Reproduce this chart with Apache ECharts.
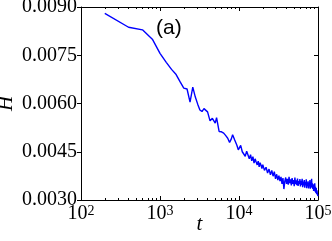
<!DOCTYPE html>
<html>
<head>
<meta charset="utf-8">
<script src="https://cdn.jsdelivr.net/npm/echarts@6/dist/echarts.min.js"></script>
<style>
  html, body { margin: 0; padding: 0; background: #fff; }
  #chart { width: 332px; height: 241px; }
</style>
</head>
<body>
<div id="chart"></div>
<script>
'use strict';

// time steps (t) and H
var tValues = [
    200, 400, 600, 800, 1000, 1200, 1400, 1600, 1800, 2000,
    2200, 2400, 2600, 2800, 3000, 3200, 3400, 3600, 3800, 4000,
    4300, 4600, 5000, 5200, 5600, 6000, 6400, 6800, 7200, 7600,
    8000, 8300, 8800, 9400, 9800,
    10000, 10500, 11000, 11500, 12000, 12500, 13000, 13500, 14000, 14500,
    15000, 15500, 16000, 16500, 17000, 17500, 18000, 18500, 19000, 19500,
    20000, 21000, 22000, 23000, 24000, 25000, 26000, 27000, 28000, 29000,
    30000, 31000, 32000, 33000, 34000, 35000, 36000, 37000, 38000, 39000,
    40000, 41000, 42000, 43000, 44000, 45000, 46000, 47000, 48000, 49000,
    50000, 51000, 52000, 53000, 54000, 55000, 56000, 57000, 58000, 59000,
    60000, 61000, 62000, 63000, 64000, 65000, 66000, 67000, 68000, 69000,
    70000, 71000, 72000, 73000, 74000, 75000, 76000, 77000, 78000, 79000,
    80000, 81000, 82000, 83000, 84000, 85000, 86000, 87000, 88000, 89000,
    90000, 91000, 92000, 93000, 94000, 95000, 96000, 97000, 98000, 99000,
    100000
];
var hValues = [
    0.00880, 0.00837, 0.00829, 0.00800, 0.00756, 0.00728, 0.00706, 0.00690, 0.00667, 0.00648,
    0.00645, 0.00604, 0.00651, 0.00620, 0.00598, 0.00580, 0.00575, 0.00584, 0.00587, 0.00574,
    0.00546, 0.00554, 0.00539, 0.00556, 0.00513, 0.00512, 0.00508, 0.00500, 0.00492, 0.00479,
    0.00490, 0.00503, 0.00487, 0.00470, 0.00456,
    0.00462, 0.00470, 0.00450, 0.00455, 0.00436, 0.00452, 0.00440, 0.00428, 0.00441, 0.00422,
    0.00435, 0.00415, 0.00428, 0.00418, 0.00409, 0.00421, 0.00403, 0.00416, 0.00408, 0.00398,
    0.00410, 0.00392, 0.00402, 0.00384, 0.00396, 0.00378, 0.00392, 0.00374, 0.00388, 0.00366,
    0.00380, 0.00362, 0.00376, 0.00359, 0.00372, 0.00350, 0.00368, 0.00334, 0.00358, 0.00370,
    0.00350, 0.00366, 0.00348, 0.00372, 0.00352, 0.00364, 0.00345, 0.00368, 0.00350, 0.00362,
    0.00343, 0.00370, 0.00349, 0.00361, 0.00346, 0.00367, 0.00344, 0.00359, 0.00349, 0.00365,
    0.00342, 0.00360, 0.00347, 0.00366, 0.00340, 0.00357, 0.00345, 0.00362, 0.00338, 0.00356,
    0.00346, 0.00364, 0.00337, 0.00355, 0.00343, 0.00358, 0.00336, 0.00352, 0.00344, 0.00362,
    0.00335, 0.00350, 0.00341, 0.00366, 0.00338, 0.00352, 0.00334, 0.00349, 0.00328, 0.00345,
    0.00333, 0.00352, 0.00326, 0.00341, 0.00322, 0.00337, 0.00318, 0.00330, 0.00320, 0.00326,
    0.00312
];

var yTicks = [0.0030, 0.0045, 0.0060, 0.0075, 0.0090];
var xTicks = [100, 1000, 10000, 100000];

var serif = 'Liberation Serif';

var lineData = tValues.map(function(t, i) {
    return [t, hValues[i]];
});

var chart = echarts.init(document.getElementById('chart'), null, { renderer: 'canvas' });

function xLabel(v) {
    return '{b|10}{s|' + Math.round(Math.log10(v)) + '}';
}

var option = {
    animation: false,
    backgroundColor: '#fff',
    title: {
        text: '(a)',
        left: 151,
        top: 13,
        textStyle: { fontFamily: 'Liberation Sans', fontSize: 21, fontWeight: 'normal', color: '#000' }
    },
    grid: { left: 81, right: 14, top: 7, bottom: 41, containLabel: false, outerBoundsMode: 'none' },
    xAxis: [{
        type: 'log',
        logBase: 10,
        min: xTicks[0],
        max: xTicks[xTicks.length - 1],
        name: 't',
        nameLocation: 'middle',
        nameGap: 14,
        nameMoveOverlap: false,
        nameTextStyle: { fontFamily: serif, fontStyle: 'italic', fontSize: 21, color: '#000' },
        axisLine: { lineStyle: { color: '#000', width: 1 } },
        axisTick: { inside: true, length: 4, lineStyle: { color: '#000' } },
        minorTick: { show: true, splitNumber: 9, length: 2, lineStyle: { color: '#000' } },
        splitLine: { show: false },
        axisLabel: {
            margin: 4,
            formatter: xLabel,
            rich: {
                b: { fontFamily: serif, fontSize: 20, color: '#000', lineHeight: 20 },
                s: { fontFamily: serif, fontSize: 14, color: '#000', verticalAlign: 'top', lineHeight: 14 }
            }
        }
    }, {
        type: 'log',
        logBase: 10,
        position: 'top',
        min: xTicks[0],
        max: xTicks[xTicks.length - 1],
        axisLine: { lineStyle: { color: '#000', width: 1 } },
        axisTick: { inside: true, length: 4, lineStyle: { color: '#000' } },
        minorTick: { show: true, splitNumber: 9, length: 2, lineStyle: { color: '#000' } },
        splitLine: { show: false },
        axisLabel: { show: false }
    }],
    yAxis: [{
        type: 'value',
        min: yTicks[0],
        max: yTicks[yTicks.length - 1],
        interval: 0.0015,
        name: 'H',
        nameLocation: 'middle',
        nameGap: 64,
        nameRotate: 90,
        nameMoveOverlap: false,
        nameTextStyle: { fontFamily: serif, fontStyle: 'italic', fontSize: 21, color: '#000' },
        axisLine: { show: true, lineStyle: { color: '#000', width: 1 } },
        axisTick: { length: 4, lineStyle: { color: '#000' } },
        splitLine: { show: false },
        axisLabel: {
            margin: 4,
            fontFamily: serif,
            fontSize: 20,
            color: '#000',
            formatter: function(v) { return v.toFixed(4); }
        }
    }, {
        type: 'value',
        position: 'right',
        min: yTicks[0],
        max: yTicks[yTicks.length - 1],
        interval: 0.0015,
        axisLine: { show: true, lineStyle: { color: '#000', width: 1 } },
        axisTick: { inside: true, length: 4, lineStyle: { color: '#000' } },
        splitLine: { show: false },
        axisLabel: { show: false }
    }],
    series: [{
        type: 'line',
        data: lineData,
        showSymbol: false,
        symbol: 'none',
        lineStyle: { color: '#0000ff', width: 1.4 }
    }]
};

chart.setOption(option);
</script>
</body>
</html>
